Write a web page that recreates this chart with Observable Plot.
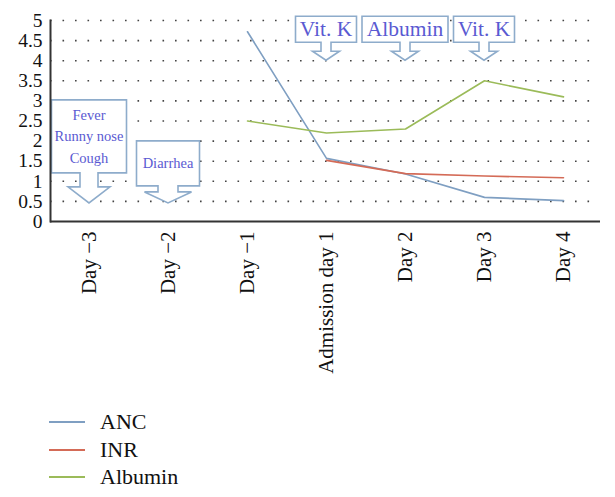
<!DOCTYPE html>
<html>
<head>
<meta charset="utf-8">
<script src="https://cdn.jsdelivr.net/npm/d3@7"></script>
<script src="https://cdn.jsdelivr.net/npm/@observablehq/plot@0.6"></script>
<style>
  body { margin: 0; background: #fff; font-family: "Liberation Serif", serif; }
  #legend { position: relative; height: 107px; }
  .row { position: absolute; left: 0; display: flex; align-items: center; height: 26px; font-size: 22px; color: #111; }
  .row svg { margin-left: 49px; margin-right: 15px; }
</style>
</head>
<body>
<div id="chart"></div>
<div id="legend"></div>
<script>
// ---- data ----
const days = ["Day −3", "Day −2", "Day −1", "Admission day 1", "Day 2", "Day 3", "Day 4"];
const seriesNames = ["ANC", "INR", "Albumin"];
const ancDays = ["Day −1", "Admission day 1", "Day 2", "Day 3", "Day 4"];
const ancValues = [4.72, 1.57, 1.18, 0.6, 0.52];
const inrDays = ["Admission day 1", "Day 2", "Day 3", "Day 4"];
const inrValues = [1.52, 1.19, 1.13, 1.09];
const albuminDays = ["Day −1", "Admission day 1", "Day 2", "Day 3", "Day 4"];
const albuminValues = [2.5, 2.2, 2.3, 3.5, 3.1];
const yTicks = [0, 0.5, 1, 1.5, 2, 2.5, 3, 3.5, 4, 4.5, 5];
const yTickLabels = ["0", "0.5", "1", "1.5", "2", "2.5", "3", "3.5", "4", "4.5", "5"];

// callout annotations
const calloutDays = ["Day −3", "Day −2", "Admission day 1", "Day 2", "Day 3"];
const calloutTipValues = [0.45, 0.45, 4, 4, 4];
const calloutTexts = [["Fever", "Runny nose", "Cough"], ["Diarrhea"], ["Vit. K"], ["Albumin"], ["Vit. K"]];

// ---- styles ----
const colors = {ANC: "#7f9fc2", INR: "#d46b57", Albumin: "#9bbb59"};
const calloutShapes = [
  {w: 75, h: 73, gap: 30, shaft: 14, shaftW: 18, headW: 42, font: 14.5, lh: 21.5},
  {w: 63, h: 45, gap: 17, shaft: 6, shaftW: 20, headW: 47, font: 14.5, lh: 21.5},
  {w: 61, h: 26, gap: 18, shaft: 9, shaftW: 10, headW: 27, font: 21.5, lh: 24},
  {w: 86, h: 26, gap: 18, shaft: 9, shaftW: 10, headW: 27, font: 21.5, lh: 24},
  {w: 61, h: 26, gap: 18, shaft: 9, shaftW: 10, headW: 27, font: 21.5, lh: 24}
];

const rows = [];
ancDays.forEach((d, i) => rows.push({day: d, value: ancValues[i], series: "ANC"}));
inrDays.forEach((d, i) => rows.push({day: d, value: inrValues[i], series: "INR"}));
albuminDays.forEach((d, i) => rows.push({day: d, value: albuminValues[i], series: "Albumin"}));

function callouts(index, scales) {
  const g = d3.create("svg:g");
  calloutDays.forEach((day, i) => {
    const s = calloutShapes[i];
    const tx = scales.x(day), ty = scales.y(calloutTipValues[i]);
    const bottom = ty - s.gap, top = bottom - s.h, sb = bottom + s.shaft;
    const pts = [
      [tx - s.w / 2, top], [tx + s.w / 2, top], [tx + s.w / 2, bottom],
      [tx + s.shaftW / 2, bottom], [tx + s.shaftW / 2, sb], [tx + s.headW / 2, sb],
      [tx, ty], [tx - s.headW / 2, sb], [tx - s.shaftW / 2, sb],
      [tx - s.shaftW / 2, bottom], [tx - s.w / 2, bottom]
    ];
    g.append("path")
      .attr("d", "M" + pts.map(p => p.join(",")).join("L") + "Z")
      .attr("fill", "#fff").attr("stroke", "#8eaccb").attr("stroke-width", 1.6);
    const lines = calloutTexts[i];
    const cy = (top + bottom) / 2;
    lines.forEach((t, j) => {
      g.append("text")
        .attr("x", tx).attr("y", cy + (j - (lines.length - 1) / 2) * s.lh)
        .attr("text-anchor", "middle").attr("dominant-baseline", "central")
        .attr("font-size", s.font).attr("font-family", "Liberation Serif, serif")
        .attr("fill", "#5a5ad2").text(t);
    });
  });
  return g.node();
}

const chart = Plot.plot({
  width: 615,
  height: 390,
  marginLeft: 50,
  marginRight: 15,
  marginTop: 20,
  marginBottom: 169,
  style: {fontFamily: "Liberation Serif, serif", fontSize: "19px", color: "#111", background: "#fff"},
  x: {type: "point", domain: days, padding: 0, insetLeft: 38, insetRight: 37, label: null},
  y: {domain: [0, 5], label: null},
  marks: [
    Plot.gridY(yTicks.slice(1), {stroke: "#444", strokeOpacity: 1, strokeWidth: 1.6, strokeDasharray: "1.6,10.9"}),
    Plot.line(rows, {x: "day", y: "value", z: "series", stroke: d => colors[d.series], strokeWidth: 1.6}),
    callouts,
    Plot.axisY(yTicks, {tickSize: 0, tickPadding: 8, tickFormat: (d, i) => yTickLabels[i], fontSize: 19.5}),
    Plot.axisX({tickSize: 0, tickRotate: -90, tickPadding: 10, fontSize: 21}),
    Plot.ruleY([0], {stroke: "#333", strokeWidth: 2}),
    Plot.frame({anchor: "left", stroke: "#333", strokeWidth: 2})
  ]
});
document.getElementById("chart").appendChild(chart);

// legend
const legend = document.getElementById("legend");
seriesNames.forEach((name, i) => {
  const row = document.createElement("div");
  row.className = "row";
  row.style.top = (19 + i * 27.5) + "px";
  row.innerHTML = `<svg width="36" height="4"><line x1="0" y1="2" x2="36" y2="2" stroke="${colors[name]}" stroke-width="2"/></svg><span>${name}</span>`;
  legend.appendChild(row);
});
</script>
</body>
</html>
